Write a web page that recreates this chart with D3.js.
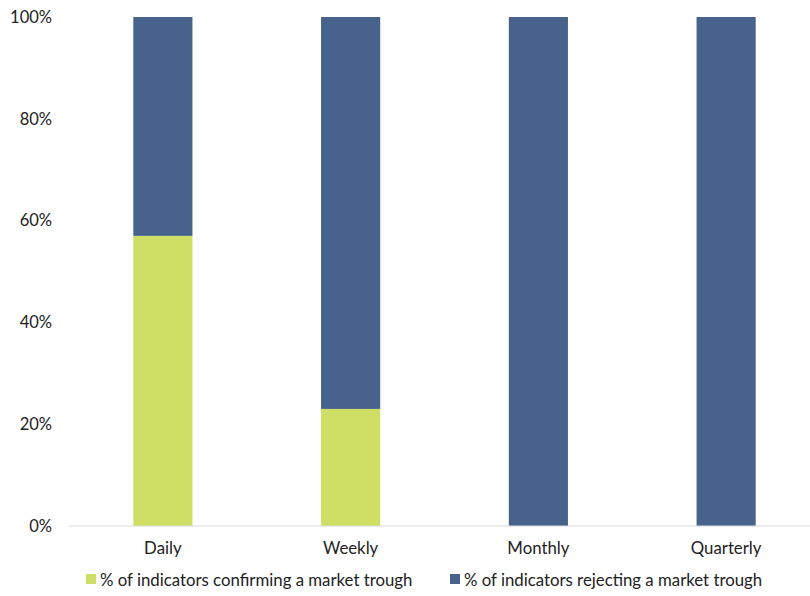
<!DOCTYPE html>
<meta charset="utf-8">
<style>
body { margin: 0; background: #fff; }
text { font-family: Lato, "Noto Sans", sans-serif; fill: #222; }
</style>
<body>
<svg width="810" height="596"></svg>
<script src="https://cdn.jsdelivr.net/npm/d3@7"></script>
<script>

// chart data
var categories = ["Daily", "Weekly", "Monthly", "Quarterly"];
var confirming = [57, 23, 0, 0];
var rejecting  = [43, 77, 100, 100];
var seriesNames = ["% of indicators confirming a market trough", "% of indicators rejecting a market trough"];
var yTicks = [0, 20, 40, 60, 80, 100];

var colors = ["#cfdf65", "#47638b"];

var svg = d3.select("svg"),
    margin = {top: 17, right: 0, bottom: 70, left: 69},
    width  = +svg.attr("width") - margin.left - margin.right,
    height = +svg.attr("height") - margin.top - margin.bottom;

var g = svg.append("g")
    .attr("transform", "translate(" + margin.left + "," + margin.top + ")");

// plot area runs a little past the right edge of the page
var x = d3.scaleBand().domain(categories).range([0, 751])
    .paddingInner(0.685).paddingOuter(0.3425);
var y = d3.scaleLinear().domain([0, 100]).range([height, 0]);

var rows = categories.map(function(c, i) {
  return {cat: c, confirming: confirming[i], rejecting: rejecting[i]};
});
var stacked = d3.stack().keys(["confirming", "rejecting"])(rows);

g.selectAll(".series")
  .data(stacked)
  .enter().append("g")
    .attr("fill", function(d, i) { return colors[i]; })
  .selectAll("rect")
  .data(function(d) { return d; })
  .enter().append("rect")
    .attr("x", function(d) { return x(d.data.cat); })
    .attr("y", function(d) { return y(d[1]); })
    .attr("width", x.bandwidth())
    .attr("height", function(d) { return y(d[0]) - y(d[1]); });

// y axis labels
g.selectAll(".ytick")
  .data(yTicks)
  .enter().append("text")
    .attr("x", -17)
    .attr("y", function(d) { return y(d); })
    .attr("dy", "0.35em")
    .attr("text-anchor", "end")
    .style("font-size", "16.5px")
    .text(function(d) { return d + "%"; });

// baseline
g.append("line")
    .attr("x1", 0).attr("x2", width)
    .attr("y1", y(0)).attr("y2", y(0))
    .attr("stroke", "#d9d9d9").attr("stroke-width", 1);

// x labels
g.selectAll(".xlab")
  .data(categories)
  .enter().append("text")
    .attr("x", function(d) { return x(d) + x.bandwidth() / 2; })
    .attr("y", height + 28)
    .attr("text-anchor", "middle")
    .style("font-size", "16.8px")
    .text(function(d) { return d; });

// legend
var legendX = [86, 450];
var legend = svg.selectAll(".legend")
  .data(seriesNames)
  .enter().append("g")
    .attr("transform", function(d, i) { return "translate(" + legendX[i] + ",580)"; });

legend.append("rect")
    .attr("x", 0).attr("y", -6)
    .attr("width", 10).attr("height", 10)
    .attr("fill", function(d, i) { return colors[i]; });

legend.append("text")
    .attr("x", 14).attr("y", 0)
    .attr("dy", "0.35em")
    .style("font-size", "16.8px")
    .text(function(d) { return d; });

</script>
</body>
